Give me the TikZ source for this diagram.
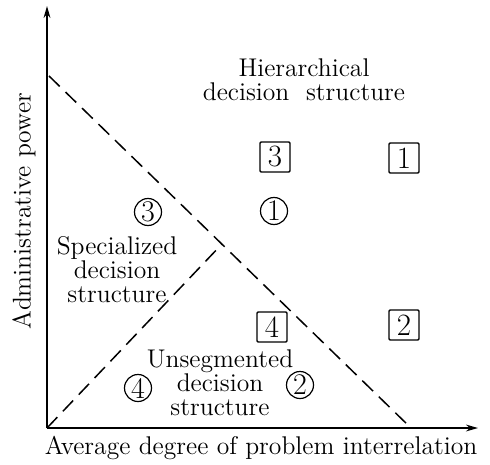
\documentclass[tikz,border=0pt]{standalone}
\usetikzlibrary{arrows.meta}
\begin{document}
\begin{tikzpicture}[x=0.5pt,y=-0.5pt,
  every node/.style={font=\fontsize{12.8}{12}\selectfont},
  axis/.style={line width=0.9pt,-{Stealth[length=6pt,width=3.4pt]}},
  dashline/.style={line width=0.75pt,dash pattern=on 7.5pt off 4pt},
  lbl/.style={align=center,inner sep=0pt},
  circnum/.style={draw,circle,line width=0.6pt,inner sep=0pt,minimum size=13.5pt,font=\fontsize{15}{15}\selectfont},
  boxnum/.style={draw,rectangle,line width=0.7pt,rounded corners=0.6pt,minimum width=15pt,minimum height=15pt,inner sep=0pt,font=\fontsize{15.5}{15.5}\selectfont}]
\useasboundingbox (0,0) rectangle (490,464);
\coordinate (O) at (47,428);
\coordinate (Ytip) at (47,6);
\coordinate (Xtip) at (478,428);
\coordinate (A) at (49,76);
\coordinate (B) at (411,428);
\coordinate (C) at (222,244);
\draw[axis] (O) -- (Ytip);
\draw[axis] (O) -- (Xtip);
\draw[dashline] (A) -- (B);
\draw[dashline] (O) -- (C);
\node[lbl] (hier) at (304,80) {Hierarchical\\decision\ \ structure};
\node[lbl] (spec) at (117,270) {Specialized\\decision\\structure};
\node[lbl] (unseg) at (220,383) {Unsegmented\\decision\\structure};
\node[inner sep=0pt] (xlab) at (261,448) {Average degree of problem interrelation};
\node[inner sep=0pt,rotate=90] (ylab) at (24,211) {Administrative power};
\node[boxnum] (b3) at (275,157) {3};
\node[boxnum] (b1) at (404,158) {1};
\node[boxnum] (b4) at (272,327) {4};
\node[boxnum] (b2) at (404,325) {2};
\node[circnum] (c3) at (148,212) {3};
\node[circnum] (c1) at (274,211) {1};
\node[circnum] (c4) at (138,388) {4};
\node[circnum] (c2) at (300,385) {2};
\end{tikzpicture}
\end{document}
